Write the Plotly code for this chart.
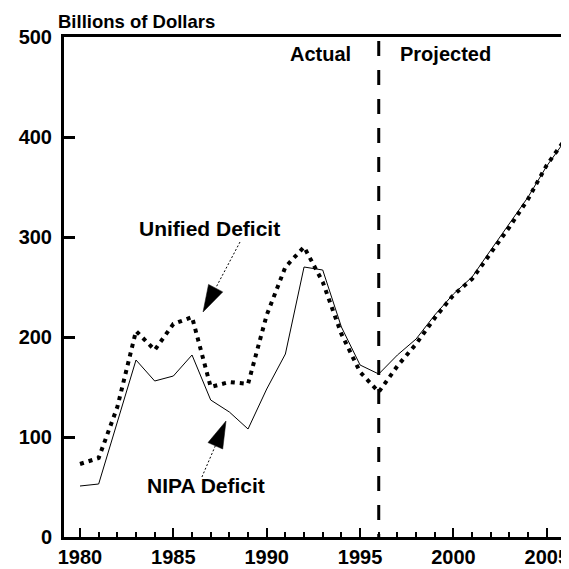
import math
import plotly.graph_objects as go

# ---- data ----
years = list(range(1980, 2007))
unified_deficit = [73, 79, 130, 206, 187, 213, 220, 150, 155, 153, 222, 270, 290, 255,
                   203, 165, 145, 171, 193, 219, 242, 258, 284, 310, 338, 372, 398]
nipa_deficit = [51, 53, 115, 177, 156, 161, 182, 137, 125, 108, 148, 183, 270, 267,
                210, 172, 163, 182, 198, 222, 243, 260, 287, 313, 340, 371, 397]
x_ticks = [1980, 1985, 1990, 1995, 2000, 2005]
y_ticks = [0, 100, 200, 300, 400, 500]
divider_year = 1996

# ---- geometry (page body adds an 8px offset) ----
OFF = 8
W, H = 569 - OFF, 569 - OFF
ML, MR, MT, MB = 64 - OFF, 0, 37 - OFF, 32
X_RANGE = [1979.143, 2006.19]
Y_RANGE = [0, 500]
plot_w = W - ML - MR
plot_h = H - MT - MB
sx = plot_w / (X_RANGE[1] - X_RANGE[0])  # px per year
sy = plot_h / (Y_RANGE[1] - Y_RANGE[0])  # px per unit

FONT = "Liberation Sans, Arial, Helvetica, sans-serif"

fig = go.Figure()
fig.add_trace(go.Scatter(x=years, y=nipa_deficit, mode="lines",
                         line=dict(color="black", width=1), name="NIPA Deficit"))
fig.add_trace(go.Scatter(x=years, y=unified_deficit, mode="lines",
                         line=dict(color="black", width=4, dash="4px,5px"),
                         name="Unified Deficit"))

shapes = [
    dict(type="line", xref="x", yref="y", x0=divider_year, x1=divider_year,
         y0=496, y1=0, line=dict(color="black", width=3, dash="15px,14px")),
]


def arrow(tail, tip, length=27, width=16):
    # tail/tip in data coords; head drawn in pixels relative to the tip
    dx = (tip[0] - tail[0]) * sx
    dy = (tip[1] - tail[1]) * sy  # y-up pixels
    n = math.hypot(dx, dy)
    ux, uy = dx / n, dy / n
    bx, by = -ux * length, -uy * length
    px, py = -uy * width / 2, ux * width / 2
    path = (f"M0,0 L{bx + px:.1f},{by + py:.1f} "
            f"L{bx - px:.1f},{by - py:.1f} Z")
    base = (tip[0] + bx / sx, tip[1] + by / sy)
    return [
        dict(type="line", xref="x", yref="y", x0=tail[0], y0=tail[1],
             x1=base[0], y1=base[1], line=dict(color="black", width=1, dash="2px,2px")),
        dict(type="path", xref="x", yref="y", xsizemode="pixel", ysizemode="pixel",
             xanchor=tip[0], yanchor=tip[1], path=path, fillcolor="black",
             line=dict(color="black", width=0.5)),
    ]


shapes += arrow((1988.57, 295), (1986.59, 225))
shapes += arrow((1986.53, 60), (1987.82, 116))

lab = dict(family=FONT, size=20, color="black", weight="bold")
lab21 = dict(family=FONT, size=21, color="black", weight="bold")
annotations = [
    dict(text="Billions of Dollars", xref="paper", yref="paper",
         x=(56 - 64) / plot_w, y=(537 - 22) / plot_h, xanchor="left",
         yanchor="middle", showarrow=False,
         font=dict(family=FONT, size=18.5, color="black", weight="bold")),
    dict(text="Actual", xref="x", yref="y", x=1994.62, y=483, xanchor="right",
         yanchor="middle", showarrow=False, font=lab),
    dict(text="Projected", xref="x", yref="y", x=1997.05, y=483, xanchor="left",
         yanchor="middle", showarrow=False, font=lab),
    dict(text="Unified Deficit", xref="x", yref="y", x=1983.05, y=309, xanchor="left",
         yanchor="middle", showarrow=False, font=lab21),
    dict(text="NIPA Deficit", xref="x", yref="y", x=1983.5, y=52, xanchor="left",
         yanchor="middle", showarrow=False, font=lab21),
]

tickfont = dict(family=FONT, size=20, color="black", weight="bold")
fig.update_layout(
    width=W, height=H,
    margin=dict(l=ML, r=MR, t=MT, b=MB, autoexpand=False),
    paper_bgcolor="white", plot_bgcolor="white",
    showlegend=False,
    shapes=shapes,
    annotations=annotations,
    xaxis=dict(range=X_RANGE, tickmode="array", tickvals=x_ticks,
               ticktext=[str(v) for v in x_ticks], ticklabeloverflow="allow",
               automargin=False,
               ticks="inside", ticklen=9, tickwidth=2, tickcolor="black",
               showline=True, linewidth=3, linecolor="black", mirror=True,
               showgrid=False, zeroline=False, tickfont=tickfont,
               minor=dict(tick0=1980, dtick=1, ticks="inside", ticklen=5,
                          tickwidth=2, tickcolor="black", showgrid=False)),
    yaxis=dict(range=Y_RANGE, tickmode="array", tickvals=y_ticks,
               ticktext=[str(v) for v in y_ticks], ticklabelstandoff=5,
               automargin=False,
               ticks="inside", ticklen=11, tickwidth=2.5, tickcolor="black",
               showline=True, linewidth=3, linecolor="black",
               showgrid=False, zeroline=False, tickfont=tickfont),
)

fig.write_html("out.html")
